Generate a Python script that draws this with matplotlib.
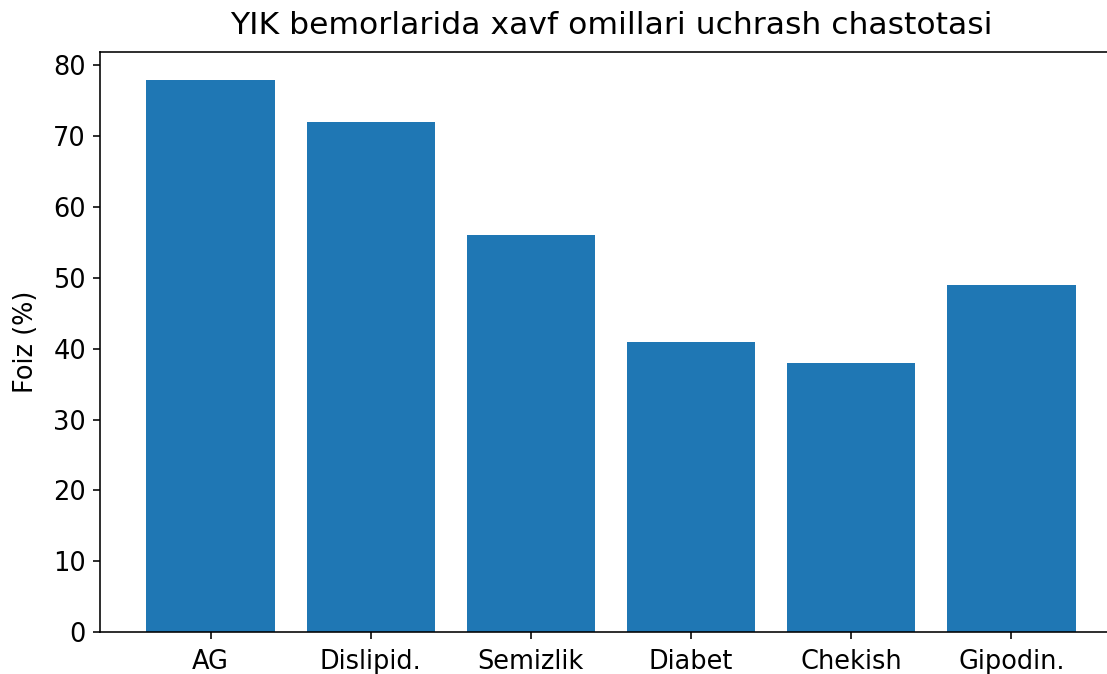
import matplotlib
matplotlib.use("Agg")
import matplotlib.pyplot as plt

categories = ["AG", "Dislipid.", "Semizlik", "Diabet", "Chekish", "Gipodin."]
values = [78, 72, 56, 41, 38, 49]

dpi = 144
fig = plt.figure(figsize=(1107 / dpi, 674 / dpi), dpi=dpi)
W, H = 1107, 674
left_px, right_px, top_px, bottom_px = 100, 1122, 52, 632
ax = fig.add_axes([left_px / W, (H - bottom_px) / H,
                   (right_px - left_px) / W, (bottom_px - top_px) / H])
ax.bar(categories, values, color="#1f77b4", width=0.8)
ax.tick_params(axis="x", labelsize=12.8, pad=5)
ax.tick_params(axis="y", labelsize=12.8)
ax.set_ylabel("Foiz (%)", fontsize=12.8, labelpad=7)
ax.set_title("YIK bemorlarida xavf omillari uchrash chastotasi", fontsize=15.7, pad=9)
fig.savefig("out.png", dpi=dpi)
